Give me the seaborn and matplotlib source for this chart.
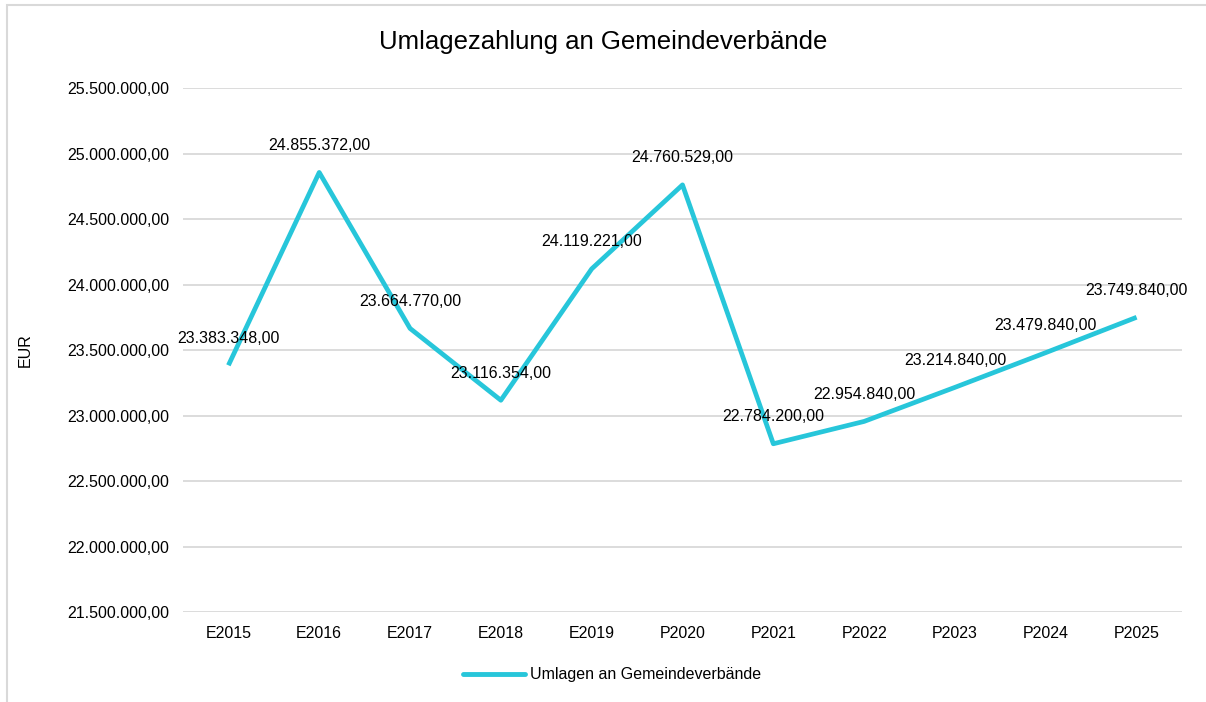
import matplotlib
matplotlib.use("Agg")
import matplotlib.pyplot as plt
import matplotlib.ticker as mticker
from matplotlib.patches import Rectangle
import seaborn as sns
import pandas as pd

categories = ["E2015", "E2016", "E2017", "E2018", "E2019", "P2020",
              "P2021", "P2022", "P2023", "P2024", "P2025"]
values = [23383348.00, 24855372.00, 23664770.00, 23116354.00, 24119221.00,
          24760529.00, 22784200.00, 22954840.00, 23214840.00, 23479840.00,
          23749840.00]
series_name = "Umlagen an Gemeindeverbände"
title = "Umlagezahlung an Gemeindeverbände"
y_label = "EUR"

sns.set_theme(style="white")
plt.rcParams['font.family'] = ['Liberation Sans', 'DejaVu Sans']
plt.rcParams['text.color'] = '#000000'

def de_fmt(v, pos=None):
    s = f"{v:,.2f}"
    return s.replace(",", "X").replace(".", ",").replace("X", ".")

df = pd.DataFrame({"Kategorie": categories, "Wert": values, "Serie": series_name})
df["x"] = range(len(categories))

fig = plt.figure(figsize=(12.06, 7.02), dpi=100)
ax = fig.add_axes([183/1206, 1-612/702, (1182-183)/1206, (612-88)/702])

color = "#27C6DA"
sns.lineplot(data=df, x="x", y="Wert", hue="Serie", palette=[color],
             linewidth=3.4, ax=ax, legend=True, solid_capstyle="butt")

ax.set_xlim(-0.5, len(categories) - 0.5)
ax.set_ylim(21500000, 25500000)
ax.yaxis.set_major_locator(mticker.MultipleLocator(500000))
ax.yaxis.set_major_formatter(mticker.FuncFormatter(de_fmt))
ax.set_xticks(df["x"])
ax.set_xticklabels(categories)
ax.tick_params(axis="both", length=0, labelsize=11.5, colors="#000000")
ax.tick_params(axis="y", pad=10)
ax.tick_params(axis="x", pad=10)
ax.grid(axis="y", color="#d9d9d9", linewidth=1.3)
ax.set_axisbelow(True)
for s in ax.spines.values():
    s.set_visible(False)
ax.set_xlabel("")
ax.set_ylabel(y_label, fontsize=11.5, color="#000000")
ax.yaxis.set_label_coords(-150/999, 0.5)

for xi, v in zip(df["x"], values):
    ax.annotate(de_fmt(v), (xi, v), xytext=(0, 19.5), textcoords="offset points",
                ha="center", va="center", fontsize=11.5, color="#000000")

fig.text(603/1206, 1-42/702, title, ha="center", va="center", fontsize=18.5,
         color="#000000")

handles, labels = ax.get_legend_handles_labels()
leg = ax.legend(handles, labels, loc="center", bbox_to_anchor=(612/1206, 1-675/702),
                bbox_transform=fig.transFigure, frameon=False, fontsize=11.5,
                handlelength=3.9, handletextpad=0.3)
for t in leg.get_texts():
    t.set_color("#000000")
for line in leg.get_lines():
    line.set_linewidth(3.5)
    line.set_solid_capstyle("round")

fig.patches.append(Rectangle((7/1206, -0.05), 1.2, 1.05 - 5/702, transform=fig.transFigure,
                             fill=False, edgecolor="#d9d9d9", linewidth=1.5))

fig.savefig("out.png", dpi=100)
